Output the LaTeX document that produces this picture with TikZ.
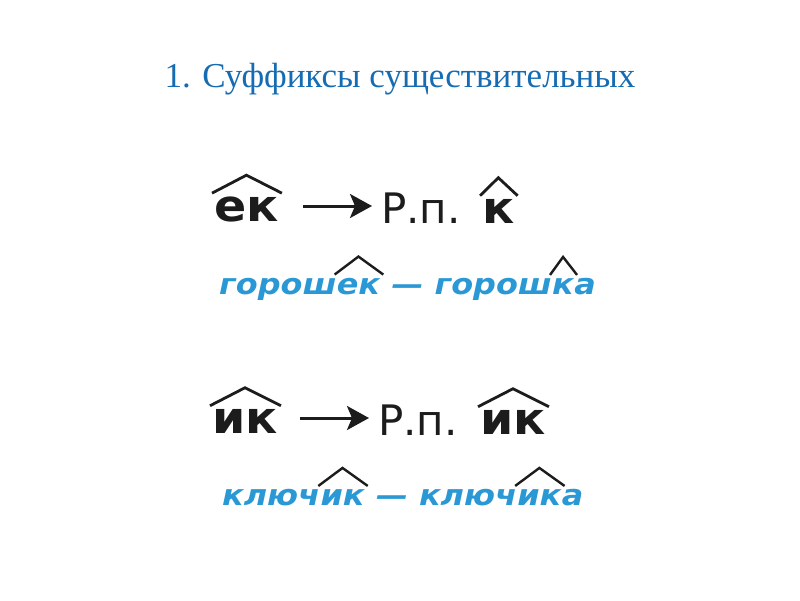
\documentclass[tikz,border=0pt]{standalone}
\usepackage{fontspec}
\setmainfont{Liberation Serif}
\newfontfamily\dejavu{DejaVu Sans}
\newfontfamily\dejavuwide[FakeStretch=1.08]{DejaVu Sans}
\newfontfamily\dejavuword[FakeStretch=1.1]{DejaVu Sans}
\usetikzlibrary{arrows.meta,positioning}

\definecolor{titleblue}{RGB}{22,108,178}
\definecolor{wordblue}{RGB}{42,152,212}
\definecolor{ink}{RGB}{28,28,28}

% roof over a suffix node
\newcommand{\roof}[2][roofline]{%
  \draw[#1] ([shift={(-2pt,3pt)}]#2.north west)
    -- ([yshift=21pt]#2.north) -- ([shift={(3pt,3pt)}]#2.north east);}

\begin{document}
\begin{tikzpicture}[%
    x=1pt, y=1pt,
    every node/.style={inner sep=0pt, anchor=base west},
    suffix/.style={font=\dejavuwide\bfseries\fontsize{44}{44}\selectfont, text=ink},
    case/.style={font=\dejavu\fontsize{42}{42}\selectfont, text=ink},
    word/.style={font=\dejavuword\bfseries\itshape\fontsize{29}{29}\selectfont, text=wordblue},
    roofline/.style={draw=ink, line width=2.8pt, line join=miter},
    smallroof/.style={roofline, line width=2.4pt},
    arrowline/.style={-{Stealth[length=22pt,width=24pt,inset=5pt]}, draw=ink, line width=3pt}
    ]
    \useasboundingbox (0,0) rectangle (800,-600);

    \node[anchor=base, font=\fontsize{35}{35}\selectfont, text=titleblue] (title)
        at (400,-87) {1. Суффиксы существительных};

    % first rule
    \node[suffix] (ek) at (214,-221) {ек};
    \node[case] (rp1) at (381,-223) {Р.п.};
    \node[suffix] (k) at (482,-223) {к};
    \draw[arrowline] ([xshift=24pt,yshift=15pt]ek.base east) -- ([xshift=-9pt,yshift=17pt]rp1.base west);
    \roof{ek}
    \roof{k}

    \node[word] (w1a) at (219,-294) {горош};
    \node[word] (w1b) at (w1a.base east) {ек};
    \node[word] (w1c) at (w1b.base east) {~— горош};
    \node[word] (w1d) at (w1c.base east) {к};
    \node[word] (w1e) at (w1d.base east) {а};
    \roof[smallroof]{w1b}
    \roof[smallroof]{w1d}

    % second rule
    \node[suffix] (ik) at (212,-433) {ик};
    \node[case] (rp2) at (378,-435) {Р.п.};
    \node[suffix] (ik2) at (480,-434) {ик};
    \draw[arrowline] ([xshift=22pt,yshift=15pt]ik.base east) -- ([xshift=-9pt,yshift=17pt]rp2.base west);
    \roof{ik}
    \roof{ik2}

    \node[word] (w2a) at (222,-505) {ключ};
    \node[word] (w2b) at (w2a.base east) {ик};
    \node[word] (w2c) at (w2b.base east) {~— ключ};
    \node[word] (w2d) at (w2c.base east) {ик};
    \node[word] (w2e) at (w2d.base east) {а};
    \roof[smallroof]{w2b}
    \roof[smallroof]{w2d}
\end{tikzpicture}
\end{document}
